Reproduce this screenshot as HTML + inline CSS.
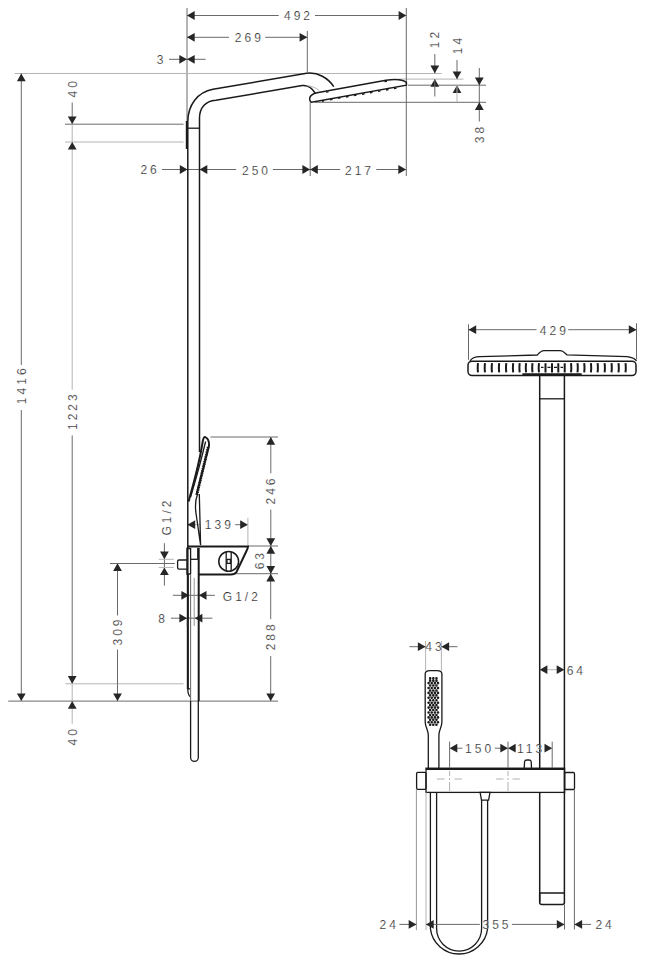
<!DOCTYPE html>
<html><head><meta charset="utf-8"><style>
html,body{margin:0;padding:0;background:#fff;width:647px;height:967px;overflow:hidden}
svg{display:block}
.d,.e{stroke:#6a6a6a;stroke-width:1;fill:none}
.e2{stroke:#b4b4b4;stroke-width:1;fill:none}
.o{stroke:#1a1a1a;stroke-width:1.5;fill:none}
.o1{stroke:#1a1a1a;stroke-width:1.3;fill:none}
.o2{stroke:#1a1a1a;stroke-width:2;fill:none}
.a{fill:#262626;stroke:none}
.slot{stroke:#1a1a1a;stroke-width:2.0;fill:none}
.band{stroke:#1a1a1a;stroke-width:2.4}
.g1{stroke:#707070;stroke-width:1.1;fill:none}
.g2{stroke:#8a8a8a;stroke-width:0.9;fill:none}
.cl{stroke:#b0b0b0;stroke-width:1}
.dots{stroke:#1a1a1a;stroke-width:2.8;fill:none;stroke-dasharray:1.5 0.9}
.nz{stroke:#1a1a1a;stroke-width:1.4;fill:none}
.dots2{stroke:#1a1a1a;stroke-width:2.6;stroke-linecap:round;fill:none}
.t{font-family:"Liberation Sans",sans-serif;font-size:12px;fill:#222;stroke:#fff;stroke-width:0.22px;letter-spacing:3.0px;text-anchor:middle;dominant-baseline:central}
</style></head><body>
<svg width="647" height="967" viewBox="0 0 647 967">
<line x1="187" y1="8" x2="187" y2="121" class="e"/>
<line x1="14.7" y1="73.5" x2="441.7" y2="73.5" class="e2"/>
<line x1="398" y1="79.1" x2="463.5" y2="79.1" class="e2"/>
<line x1="408" y1="85.2" x2="486" y2="85.2" class="e"/>
<line x1="315" y1="102.3" x2="486" y2="102.3" class="e"/>
<line x1="307.3" y1="30.9" x2="307.3" y2="72" class="e"/>
<line x1="406.3" y1="8" x2="406.3" y2="176" class="e"/>
<line x1="310.2" y1="102.6" x2="310.2" y2="176" class="e"/>
<line x1="65" y1="124.2" x2="183.5" y2="124.2" class="e"/>
<line x1="65" y1="142" x2="183.5" y2="142" class="e2"/>
<line x1="187" y1="15.5" x2="278.7" y2="15.5" class="e"/>
<line x1="315" y1="15.5" x2="406.3" y2="15.5" class="e"/>
<polygon points="187,15.5 194.7,11.1 194.7,19.9" class="a"/>
<polygon points="406.3,15.5 398.6,11.1 398.6,19.9" class="a"/>
<text x="1.5" y="0.7" transform="translate(297,15.5) rotate(0.01)" class="t">492</text>
<line x1="187" y1="37.3" x2="229" y2="37.3" class="e"/>
<line x1="265.2" y1="37.3" x2="307.3" y2="37.3" class="e"/>
<polygon points="187,37.3 194.7,32.9 194.7,41.699999999999996" class="a"/>
<polygon points="307.3,37.3 299.6,32.9 299.6,41.699999999999996" class="a"/>
<text x="1.5" y="0.7" transform="translate(247.8,37.3) rotate(0.01)" class="t">269</text>
<line x1="169" y1="59.3" x2="205.6" y2="59.3" class="e"/>
<polygon points="187,59.3 179.3,54.9 179.3,63.699999999999996" class="a"/>
<polygon points="187,59.3 194.7,54.9 194.7,63.699999999999996" class="a"/>
<text x="1.5" y="0.7" transform="translate(160,59.3) rotate(0.01)" class="t">3</text>
<line x1="434.8" y1="54" x2="434.8" y2="73.3" class="e"/>
<polygon points="434.8,73.3 430.40000000000003,65.6 439.2,65.6" class="a"/>
<polygon points="434.8,79.1 430.40000000000003,86.8 439.2,86.8" class="a"/>
<line x1="434.8" y1="79.1" x2="434.8" y2="96.5" class="e"/>
<text x="1.5" y="0.6" transform="translate(434.8,40) rotate(-90)" class="t">12</text>
<line x1="457" y1="60" x2="457" y2="79.1" class="e"/>
<polygon points="457,79.1 452.6,71.39999999999999 461.4,71.39999999999999" class="a"/>
<polygon points="457,85.2 452.6,92.9 461.4,92.9" class="a"/>
<line x1="457" y1="85.2" x2="457" y2="102.3" class="e2"/>
<text x="1.5" y="0.6" transform="translate(457,46) rotate(-90)" class="t">14</text>
<line x1="479.3" y1="68" x2="479.3" y2="121.5" class="e"/>
<polygon points="479.3,85.2 474.90000000000003,77.5 483.7,77.5" class="a"/>
<polygon points="479.3,102.3 474.90000000000003,110.0 483.7,110.0" class="a"/>
<text x="1.5" y="0.6" transform="translate(479.3,135) rotate(-90)" class="t">38</text>
<line x1="21.3" y1="73.6" x2="21.3" y2="365" class="e"/>
<line x1="21.3" y1="410" x2="21.3" y2="701.1" class="e"/>
<polygon points="21.3,73.6 16.9,81.3 25.700000000000003,81.3" class="a"/>
<polygon points="21.3,701.1 16.9,693.4 25.700000000000003,693.4" class="a"/>
<text x="1.5" y="0.6" transform="translate(21.5,386.3) rotate(-90)" class="t">1416</text>
<line x1="72.2" y1="102.5" x2="72.2" y2="124.1" class="e"/>
<polygon points="72.2,124.1 67.8,116.39999999999999 76.60000000000001,116.39999999999999" class="a"/>
<text x="1.5" y="0.6" transform="translate(72.2,89.3) rotate(-90)" class="t">40</text>
<line x1="72.2" y1="124.1" x2="72.2" y2="389.8" class="e2"/>
<line x1="72.2" y1="435.4" x2="72.2" y2="683.8" class="e"/>
<polygon points="72.2,141.9 67.8,149.6 76.60000000000001,149.6" class="a"/>
<polygon points="72.2,683.8 67.8,676.0999999999999 76.60000000000001,676.0999999999999" class="a"/>
<text x="1.5" y="0.6" transform="translate(72.2,412.2) rotate(-90)" class="t">1223</text>
<line x1="72.2" y1="683.8" x2="72.2" y2="723.8" class="e2"/>
<polygon points="72.2,701.1 67.8,708.8000000000001 76.60000000000001,708.8000000000001" class="a"/>
<text x="1.5" y="0.6" transform="translate(72.2,737.3) rotate(-90)" class="t">40</text>
<line x1="65.4" y1="683.8" x2="183.5" y2="683.8" class="e2"/>
<line x1="8.2" y1="701.1" x2="278" y2="701.1" class="e"/>
<line x1="117.5" y1="563.2" x2="117.5" y2="615.5" class="e"/>
<line x1="117.5" y1="649.5" x2="117.5" y2="701.1" class="e"/>
<polygon points="117.5,563.2 113.1,570.9000000000001 121.9,570.9000000000001" class="a"/>
<polygon points="117.5,701.1 113.1,693.4 121.9,693.4" class="a"/>
<text x="1.5" y="0.6" transform="translate(117.5,632.5) rotate(-90)" class="t">309</text>
<line x1="110" y1="563.5" x2="174.8" y2="563.5" class="e"/>
<line x1="164.4" y1="543.2" x2="164.4" y2="585.6" class="e"/>
<polygon points="164.4,559.3 160.0,551.5999999999999 168.8,551.5999999999999" class="a"/>
<polygon points="164.4,567.4 160.0,575.1 168.8,575.1" class="a"/>
<text x="1.5" y="0.6" transform="translate(165.9,518) rotate(-90)" class="t">G1/2</text>
<line x1="158.7" y1="559.3" x2="173.8" y2="559.3" class="e2"/>
<line x1="158.7" y1="567.4" x2="173.8" y2="567.4" class="e2"/>
<line x1="162" y1="169.5" x2="236.2" y2="169.5" class="e"/>
<line x1="272.9" y1="169.5" x2="340.2" y2="169.5" class="e"/>
<line x1="376.3" y1="169.5" x2="406" y2="169.5" class="e"/>
<polygon points="187.5,169.5 179.8,165.1 179.8,173.9" class="a"/>
<polygon points="199.6,169.5 207.29999999999998,165.1 207.29999999999998,173.9" class="a"/>
<polygon points="310.1,169.5 302.40000000000003,165.1 302.40000000000003,173.9" class="a"/>
<polygon points="310.1,169.5 317.8,165.1 317.8,173.9" class="a"/>
<polygon points="406,169.5 398.3,165.1 398.3,173.9" class="a"/>
<text x="1.5" y="0.7" transform="translate(148.6,169.5) rotate(0.01)" class="t">26</text>
<text x="1.5" y="0.7" transform="translate(255,170) rotate(0.01)" class="t">250</text>
<text x="1.5" y="0.7" transform="translate(358,170) rotate(0.01)" class="t">217</text>
<line x1="210.5" y1="437" x2="278" y2="437" class="e"/>
<line x1="270.8" y1="437" x2="270.8" y2="473.3" class="e"/>
<line x1="270.8" y1="509.6" x2="270.8" y2="546" class="e"/>
<polygon points="270.8,437 266.40000000000003,444.7 275.2,444.7" class="a"/>
<polygon points="270.8,546 266.40000000000003,538.3 275.2,538.3" class="a"/>
<text x="1.5" y="0.6" transform="translate(270.8,491.5) rotate(-90)" class="t">246</text>
<line x1="248" y1="546" x2="278" y2="546" class="e"/>
<line x1="235" y1="573.7" x2="278" y2="573.7" class="e"/>
<line x1="270.8" y1="546" x2="270.8" y2="573.7" class="e"/>
<polygon points="270.8,546 266.40000000000003,553.7 275.2,553.7" class="a"/>
<polygon points="270.8,573.7 266.40000000000003,566.0 275.2,566.0" class="a"/>
<text x="1.5" y="0.6" transform="translate(259.7,561.2) rotate(-90)" class="t">63</text>
<line x1="270.7" y1="573.7" x2="270.7" y2="619.2" class="e"/>
<line x1="270.7" y1="656.1" x2="270.7" y2="701.1" class="e"/>
<polygon points="270.7,573.7 266.3,581.4000000000001 275.09999999999997,581.4000000000001" class="a"/>
<polygon points="270.7,701.1 266.3,693.4 275.09999999999997,693.4" class="a"/>
<text x="1.5" y="0.6" transform="translate(270.7,637.3) rotate(-90)" class="t">288</text>
<line x1="187" y1="524.7" x2="200" y2="524.7" class="e2"/>
<line x1="235.2" y1="524.7" x2="247.9" y2="524.7" class="e"/>
<polygon points="187.5,524.7 195.2,520.3000000000001 195.2,529.1" class="a"/>
<polygon points="247.9,524.7 240.20000000000002,520.3000000000001 240.20000000000002,529.1" class="a"/>
<text x="1.5" y="0.7" transform="translate(217.8,524.7) rotate(0.01)" class="t">139</text>
<line x1="247.9" y1="517.8" x2="247.9" y2="546" class="e2"/>
<line x1="172.9" y1="595.3" x2="214.9" y2="595.3" class="e"/>
<polygon points="189.1,595.3 181.4,590.9 181.4,599.6999999999999" class="a"/>
<polygon points="198.8,595.3 206.5,590.9 206.5,599.6999999999999" class="a"/>
<text x="1.5" y="0.7" transform="translate(240.3,596) rotate(0.01)" class="t">G1/2</text>
<line x1="171" y1="618.2" x2="212.4" y2="618.2" class="e"/>
<polygon points="187.1,618.2 179.4,613.8000000000001 179.4,622.6" class="a"/>
<polygon points="194.7,618.2 202.39999999999998,613.8000000000001 202.39999999999998,622.6" class="a"/>
<text x="1.5" y="0.7" transform="translate(161.7,618.2) rotate(0.01)" class="t">8</text>
<path d="M187.8,689 L187.8,122 C187.8,105 197.7,92 213,89.3 L306.6,73.3 C318,72 328,78 333.8,86.6" class="o"/>
<path d="M199.5,452 L199.5,118 C199.5,108 205,101 215.8,100.2 L302.2,85.6 C307,85 312,88 315.2,93.1" class="o"/>
<path d="M306.6,85.6 C312,86 316,88 319,90.3" class="e2"/>
<line x1="187.8" y1="128.2" x2="199.5" y2="128.2" class="o1"/>
<line x1="186.8" y1="121" x2="186.8" y2="149" class="o2"/>
<path d="M309.7,99.6 C309.2,96.5 312,94 317,92.8 L386,80.2 C395,78.8 403,79.6 406.4,82.4 L406.4,85.2 L311.5,102.2 C310.3,101.8 309.8,100.6 309.7,99.6 Z" class="o"/>
<path d="M322,101.2 l2,-0.4 M330,99.8 l2.5,-0.5 M338,98.4 l2.5,-0.5 M346,97 l2.5,-0.5 M354,95.6 l2.5,-0.5 M362,94.2 l2.5,-0.5 M370,92.8 l2.5,-0.5 M378,91.4 l2.5,-0.5 M386,90 l2.5,-0.5 M394,88.6 l2.5,-0.5" class="nz"/>
<path d="M326,92.2 l2.5,-0.4 M384.5,81.6 l2.5,-0.2" class="o1"/>
<line x1="187.8" y1="574" x2="187.8" y2="689" class="o2"/>
<path d="M187.8,688.8 L190.6,688.8 M187.8,689 C187.8,694 189,696 190.6,697" class="o1"/>
<line x1="190.6" y1="548" x2="190.6" y2="574" class="o1"/>
<line x1="190.6" y1="574" x2="190.6" y2="701" class="g1"/>
<path d="M190.6,701 L190.6,757.5 A3.85,3.85 0 0 0 198.3,757.5 L198.3,701" class="o1"/>
<line x1="198.7" y1="548" x2="198.7" y2="701" class="o2"/>
<line x1="194.2" y1="578" x2="194.2" y2="626" class="g2"/>
<line x1="186.6" y1="620" x2="186.6" y2="626" class="e2"/>
<path d="M190.2,548.5 L186.9,548.5 L186.9,574 L190.2,574" class="o1"/>
<line x1="190.6" y1="559.3" x2="197.8" y2="559.3" class="o1"/>
<line x1="197.8" y1="548" x2="197.8" y2="559.3" class="o1"/>
<path d="M188.6,501.4 Q199.5,463 202.8,441 C203.4,438.3 204.2,436.9 204.8,436.9 C207.6,438 209.3,441.5 209,445.5 L196.6,494.5" class="o2"/>
<path d="M190.6,497 Q199.8,466 205.6,441.5" class="o1"/>
<path d="M208.2,447 L196.8,495" class="dots"/>
<path d="M197.6,494 C195.2,500 195,508 196.4,516 L200.6,545.2 M199.3,494 L200.6,545.2" class="o1"/>
<path d="M187,546.5 L248,546.5 C248,548 247,550 246,552 L236.5,572 C235.5,573.5 233.5,574.5 231,574.5 L198.7,574.5" class="o2"/>
<circle cx="228.7" cy="561.4" r="9.9" class="o"/>
<line x1="226.2" y1="552" x2="226.2" y2="571" class="o1"/>
<line x1="231.2" y1="552" x2="231.2" y2="571" class="o1"/>
<rect x="227" y="559.4" width="3.4" height="4" class="o1"/>
<path d="M186.9,560 L179,560 Q177.6,560 177.6,561.4 L177.6,567.8 Q177.6,569.2 179,569.2 L186.9,569.2" class="o1"/>
<line x1="468.5" y1="324.3" x2="468.5" y2="359.8" class="e"/>
<line x1="636.5" y1="323.3" x2="636.5" y2="359.5" class="e"/>
<line x1="468.5" y1="329.7" x2="536.5" y2="329.7" class="e"/>
<line x1="568.2" y1="329.7" x2="636.5" y2="329.7" class="e"/>
<polygon points="468.5,329.7 476.2,325.3 476.2,334.09999999999997" class="a"/>
<polygon points="636.5,329.7 628.8,325.3 628.8,334.09999999999997" class="a"/>
<text x="1.5" y="0.7" transform="translate(552.8,329.8) rotate(0.01)" class="t">429</text>
<path d="M470,361 C472,357.5 476,356.8 480,356.7 L537.3,355 C539,353 541,350.6 544,350.6 L560.1,350.6 C563,350.6 565,353 566.9,354.9 L627.2,356.7 C632,357.5 635,358.5 636.5,361" class="o1"/>
<rect x="468" y="361.2" width="168" height="14.4" rx="4" ry="4" class="o"/>
<path d="M478.00,363.2 Q477.40,367.7 478.00,372.4 M485.00,363.2 Q484.40,367.7 485.00,372.4 M492.00,363.2 Q491.40,367.7 492.00,372.4 M499.20,363.2 Q498.60,367.7 499.20,372.4 M506.30,363.2 Q505.70,367.7 506.30,372.4 M513.20,363.2 Q512.60,367.7 513.20,372.4 M519.70,363.2 Q519.10,367.7 519.70,372.4 M526.10,363.2 Q525.50,367.7 526.10,372.4 M532.50,363.2 Q531.90,367.7 532.50,372.4 M539.00,363.2 Q538.40,367.7 539.00,372.4 M545.50,363.2 Q545.50,367.7 545.50,372.4 M552.00,363.2 Q552.00,367.7 552.00,372.4 M558.30,363.2 Q558.30,367.7 558.30,372.4 M564.70,363.2 Q564.70,367.7 564.70,372.4 M571.00,363.2 Q571.60,367.7 571.00,372.4 M577.50,363.2 Q578.10,367.7 577.50,372.4 M584.20,363.2 Q584.80,367.7 584.20,372.4 M590.90,363.2 Q591.50,367.7 590.90,372.4 M597.60,363.2 Q598.20,367.7 597.60,372.4 M604.60,363.2 Q605.20,367.7 604.60,372.4 M611.50,363.2 Q612.10,367.7 611.50,372.4 M618.50,363.2 Q619.10,367.7 618.50,372.4 M625.50,363.2 Q626.10,367.7 625.50,372.4" class="slot"/>
<path d="M541,367.4 h2.5 M547.5,367.4 h3 M554,367.4 h3 M560.5,367.4 h2.5" class="o1"/>
<line x1="522.4" y1="374.4" x2="581.7" y2="374.4" class="band"/>
<line x1="539.7" y1="375.6" x2="539.7" y2="768" class="o"/>
<line x1="564.4" y1="375.6" x2="564.4" y2="893" class="o"/>
<line x1="539.7" y1="398.8" x2="564.4" y2="398.8" class="o1"/>
<line x1="546" y1="669.7" x2="558" y2="669.7" class="e2"/>
<polygon points="539.7,669.7 547.4000000000001,665.3000000000001 547.4000000000001,674.1" class="a"/>
<polygon points="564.4,669.7 556.6999999999999,665.3000000000001 556.6999999999999,674.1" class="a"/>
<text x="1.5" y="0.7" transform="translate(574.8,670.3) rotate(0.01)" class="t">64</text>
<path d="M428.3,768 L428.3,735 C428.3,730 425.2,727 425.2,722 L425.2,674 C425.2,671.5 427,670.6 430,670.6 L437,670.6 C440,670.6 441.9,671.5 441.9,674 L441.9,722 C441.9,727 438.9,730 438.9,735 L438.9,768" class="o1"/>
<path d="M430.15,678.20h0.01 M433.30,678.20h0.01 M436.45,678.20h0.01 M430.15,680.65h0.01 M433.30,680.65h0.01 M436.45,680.65h0.01 M428.60,683.10h0.01 M431.70,683.10h0.01 M434.90,683.10h0.01 M438.00,683.10h0.01 M430.15,685.55h0.01 M433.30,685.55h0.01 M436.45,685.55h0.01 M428.60,688.00h0.01 M431.70,688.00h0.01 M434.90,688.00h0.01 M438.00,688.00h0.01 M430.15,690.45h0.01 M433.30,690.45h0.01 M436.45,690.45h0.01 M428.60,692.90h0.01 M431.70,692.90h0.01 M434.90,692.90h0.01 M438.00,692.90h0.01 M430.15,695.35h0.01 M433.30,695.35h0.01 M436.45,695.35h0.01 M428.60,697.80h0.01 M431.70,697.80h0.01 M434.90,697.80h0.01 M438.00,697.80h0.01 M430.15,700.25h0.01 M433.30,700.25h0.01 M436.45,700.25h0.01 M428.60,702.70h0.01 M431.70,702.70h0.01 M434.90,702.70h0.01 M438.00,702.70h0.01 M430.15,705.15h0.01 M433.30,705.15h0.01 M436.45,705.15h0.01 M428.60,707.60h0.01 M431.70,707.60h0.01 M434.90,707.60h0.01 M438.00,707.60h0.01 M430.15,710.05h0.01 M433.30,710.05h0.01 M436.45,710.05h0.01 M428.60,712.50h0.01 M431.70,712.50h0.01 M434.90,712.50h0.01 M438.00,712.50h0.01 M430.15,714.95h0.01 M433.30,714.95h0.01 M436.45,714.95h0.01 M428.60,717.40h0.01 M431.70,717.40h0.01 M434.90,717.40h0.01 M438.00,717.40h0.01 M430.15,719.85h0.01 M433.30,719.85h0.01 M436.45,719.85h0.01 M428.60,722.30h0.01 M431.70,722.30h0.01 M434.90,722.30h0.01 M438.00,722.30h0.01 M430.15,724.75h0.01 M433.30,724.75h0.01 M436.45,724.75h0.01" class="dots2"/>
<line x1="425.6" y1="641" x2="425.6" y2="670.8" class="e2"/>
<line x1="441.4" y1="641" x2="441.4" y2="670.8" class="e2"/>
<line x1="409.3" y1="646.7" x2="425.6" y2="646.7" class="e"/>
<line x1="441.4" y1="646.7" x2="457.5" y2="646.7" class="e"/>
<polygon points="425.6,646.7 417.90000000000003,642.3000000000001 417.90000000000003,651.1" class="a"/>
<polygon points="441.4,646.7 449.09999999999997,642.3000000000001 449.09999999999997,651.1" class="a"/>
<text x="1.5" y="0.7" transform="translate(433.4,646.7) rotate(0.01)" class="t">43</text>
<rect x="426" y="768.2" width="138.6" height="24.2" class="o1"/>
<line x1="426" y1="768.9" x2="564.6" y2="768.9" class="o2"/>
<rect x="416.6" y="772.3" width="9.4" height="17" rx="1.2" class="o1"/>
<rect x="564.6" y="772.5" width="9.9" height="17" rx="1.2" class="o1"/>
<path d="M524.2,768 L524.6,761.5 C524.8,760.3 525.5,760 527,760 L528.8,760 C530.3,760 531,760.3 531.2,761.5 L531.5,768" class="o1"/>
<path d="M480.1,792.4 L490,792.4 L488.6,800.1 L481.5,800.1 Z" class="o1"/>
<line x1="437" y1="779" x2="444.5" y2="779" class="cl"/>
<line x1="449.5" y1="778" x2="449.5" y2="780" class="cl"/>
<line x1="454.4" y1="779" x2="461.8" y2="779" class="cl"/>
<line x1="496" y1="779" x2="503.5" y2="779" class="cl"/>
<line x1="508" y1="778" x2="508" y2="780" class="cl"/>
<line x1="512.5" y1="779" x2="520" y2="779" class="cl"/>
<line x1="449.6" y1="741.6" x2="449.6" y2="768" class="e"/>
<line x1="508" y1="741.6" x2="508" y2="768" class="e"/>
<line x1="552.2" y1="741.6" x2="552.2" y2="768" class="e"/>
<line x1="449.6" y1="771" x2="449.6" y2="776" class="cl"/>
<line x1="449.6" y1="782" x2="449.6" y2="791" class="cl"/>
<line x1="508" y1="771" x2="508" y2="776" class="cl"/>
<line x1="508" y1="782" x2="508" y2="791" class="cl"/>
<line x1="457" y1="748.2" x2="462.4" y2="748.2" class="e"/>
<line x1="494.9" y1="748.2" x2="501.8" y2="748.2" class="e"/>
<polygon points="449.6,748.2 457.3,743.8000000000001 457.3,752.6" class="a"/>
<polygon points="508,748.2 500.3,743.8000000000001 500.3,752.6" class="a"/>
<polygon points="508,748.2 515.7,743.8000000000001 515.7,752.6" class="a"/>
<polygon points="552.2,748.2 544.5,743.8000000000001 544.5,752.6" class="a"/>
<text x="1.5" y="0.7" transform="translate(478.1,748.2) rotate(0.01)" class="t">150</text>
<text x="1.5" y="0.7" transform="translate(529.6,748.2) rotate(0.01)" class="t">113</text>
<path d="M430.4,792.4 L430.4,928.6 A28.8,28.8 0 0 0 487.6,928.6 L487.6,800.1" class="o1"/>
<path d="M436.6,792.4 L436.6,928.6 A22.5,22.5 0 0 0 481.6,928.6 L481.6,800.1" class="o1"/>
<line x1="539.7" y1="792.4" x2="539.7" y2="902" class="o"/>
<path d="M539.7,892.9 L564.4,892.9 M539.7,893 L539.7,902.5 C539.7,904 540.5,904.5 542,904.5 L562.2,904.5 C563.7,904.5 564.4,904 564.4,902.5 L564.4,893" class="o"/>
<line x1="416.4" y1="789.4" x2="416.4" y2="930.2" class="g2"/>
<line x1="426" y1="792.4" x2="426" y2="930.2" class="e2"/>
<line x1="564.5" y1="904.5" x2="564.5" y2="929.5" class="e"/>
<line x1="574.4" y1="789.5" x2="574.4" y2="929.5" class="e"/>
<line x1="399.4" y1="924.4" x2="416.4" y2="924.4" class="e"/>
<line x1="426" y1="924.4" x2="479.9" y2="924.4" class="e"/>
<line x1="511.9" y1="924.4" x2="564.5" y2="924.4" class="e"/>
<line x1="574.4" y1="924.4" x2="591.1" y2="924.4" class="e"/>
<polygon points="416.4,924.4 408.7,920.0 408.7,928.8" class="a"/>
<polygon points="426,924.4 433.7,920.0 433.7,928.8" class="a"/>
<polygon points="564.5,924.4 556.8,920.0 556.8,928.8" class="a"/>
<polygon points="574.4,924.4 582.1,920.0 582.1,928.8" class="a"/>
<text x="1.5" y="0.7" transform="translate(387.7,924.4) rotate(0.01)" class="t">24</text>
<text x="1.5" y="0.7" transform="translate(495.5,924.4) rotate(0.01)" class="t">355</text>
<text x="1.5" y="0.7" transform="translate(603.6,924.4) rotate(0.01)" class="t">24</text>
</svg>
</body></html>
